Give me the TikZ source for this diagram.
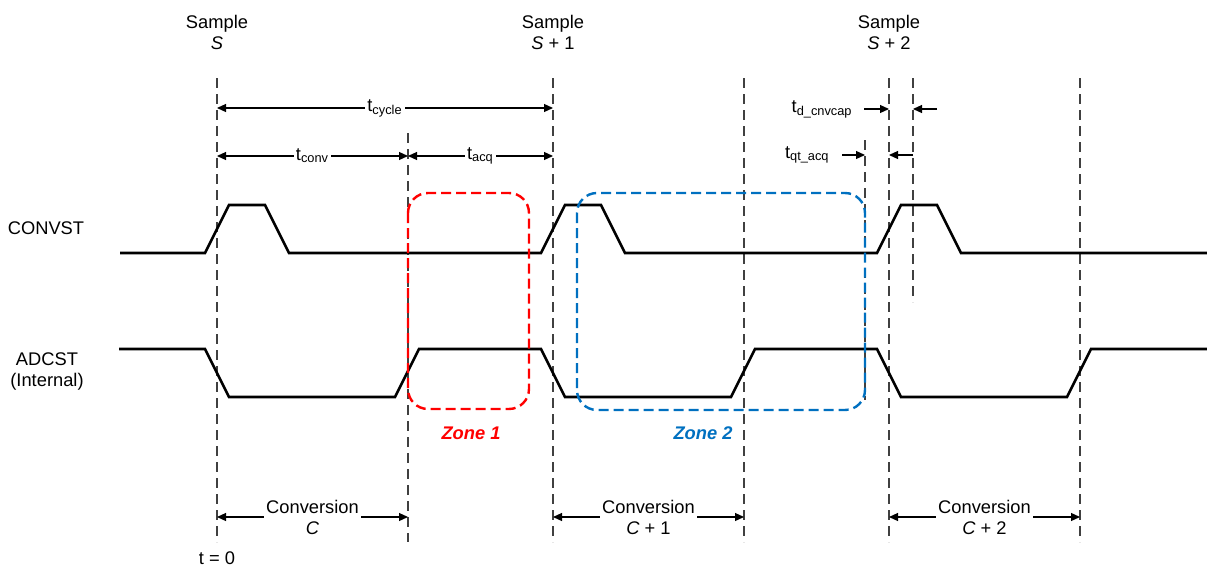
\documentclass[tikz,border=0pt]{standalone}
\usepackage{fontspec}
\setmainfont{Liberation Sans}
\usetikzlibrary{arrows.meta, positioning}
\definecolor{zonered}{RGB}{255,0,0}
\definecolor{zoneblue}{RGB}{0,112,192}
\definecolor{gridgray}{RGB}{64,64,64}
\tikzset{
  %% ---- lines ----
  signal/.style   = {line width=1.3pt, draw=black},
  gridline/.style = {line width=0.7pt, draw=gridgray, dash pattern=on 5pt off 3pt},
  zonebox/.style  = {line width=1.2pt, draw=#1, dash pattern=on 5pt off 2.5pt,
                     rounded corners=10pt},
  %% ---- arrows ----
  dimarr/.style   = {-{Triangle[length=4.5pt,width=4pt]}, line width=0.6pt},
  dimboth/.style  = {{Triangle[length=4.5pt,width=4pt]}-{Triangle[length=4.5pt,width=4pt]},
                     line width=0.6pt},
  %% ---- labels ----
  lbl/.style      = {font=\fontsize{9.15}{10.5}\selectfont, inner xsep=1pt,
                     inner ysep=1pt, align=center},
  gaplbl/.style   = {lbl, fill=white},
  zonelbl/.style  = {lbl, font=\fontsize{9.15}{10.5}\selectfont\bfseries\itshape, text=#1},
}

\begin{document}
\begin{tikzpicture}[x=0.5pt, y=-0.5pt]
\useasboundingbox (0,0) rectangle (1207,568);

%% time marks
\draw[gridline] (217,78)  -- (217,542);
\draw[gridline] (408,133) -- (408,542);
\draw[gridline] (553,78)  -- (553,542);
\draw[gridline] (744,78)  -- (744,542);
\draw[gridline] (865,140) -- (865,400);
\draw[gridline] (889,78)  -- (889,542);
\draw[gridline] (913,78)  -- (913,302);
\draw[gridline] (1080,78) -- (1080,542);

%% sample labels
\node[lbl] (smp0) at (217,32) {Sample\\\textit{S}};
\node[lbl] (smp1) at (553,32) {Sample\\\textit{S} + 1};
\node[lbl] (smp2) at (889,32) {Sample\\\textit{S} + 2};

%% timing dimensions
\coordinate (cyc-l) at (217,108); \coordinate (cyc-r) at (553,108);
\coordinate (cnv-l) at (217,156); \coordinate (cnv-m) at (408,156);
\coordinate (cnv-r) at (553,156);
\draw[dimboth] (cyc-l) -- node[gaplbl] (tcyc) {t\textsubscript{cycle}} (cyc-r);
\draw[dimboth] (cnv-l) -- node[gaplbl] (tcnv) {t\textsubscript{conv}} (cnv-m);
\draw[dimboth] (cnv-m) -- node[gaplbl] (tacq) {t\textsubscript{acq}} (cnv-r);

\coordinate (dc-a) at (864,109); \coordinate (dc-b) at (889,109);
\coordinate (dc-c) at (937,109); \coordinate (dc-d) at (913,109);
\node[lbl, left=4.5pt of dc-a] (tdc) {t\textsubscript{d\_cnvcap}};
\draw[dimarr] (dc-a) -- (dc-b);
\draw[dimarr] (dc-c) -- (dc-d);

\coordinate (qt-a) at (842,155); \coordinate (qt-b) at (865,155);
\coordinate (qt-c) at (913,155); \coordinate (qt-d) at (889,155);
\node[lbl, left=5pt of qt-a] (tqt) {t\textsubscript{qt\_acq}};
\draw[dimarr] (qt-a) -- (qt-b);
\draw[dimarr] (qt-c) -- (qt-d);

%% signals
\node[lbl] (convst) at (46,228) {CONVST};
\node[lbl] (adcst)  at (47,372) {ADCST\\(Internal)};
\draw[signal] (120,253) -- (205,253) -- (229,205) -- (265,205) -- (289,253)
  -- (541,253) -- (565,205) -- (601,205) -- (625,253) -- (877,253)
  -- (901,205) -- (937,205) -- (961,253) -- (1207,253);
\draw[signal] (119,349) -- (205,349) -- (229,397) -- (395,397) -- (419,349)
  -- (541,349) -- (565,397) -- (731,397) -- (755,349) -- (877,349)
  -- (901,397) -- (1067,397) -- (1091,349) -- (1207,349);

%% zones
\draw[zonebox=zonered]  (408,193) rectangle (529,409);
\draw[zonebox=zoneblue] (577,193) rectangle (865,410);
\node[zonelbl=zonered]  (zone1) at (471,433) {Zone 1};
\node[zonelbl=zoneblue] (zone2) at (703,433) {Zone 2};

%% conversions
\coordinate (cv0-l) at (217,517); \coordinate (cv0-r) at (408,517);
\coordinate (cv1-l) at (553,517); \coordinate (cv1-r) at (744,517);
\coordinate (cv2-l) at (889,517); \coordinate (cv2-r) at (1080,517);
\draw[dimboth] (cv0-l) -- node[gaplbl] (conv0) {Conversion\\\textit{C}} (cv0-r);
\draw[dimboth] (cv1-l) -- node[gaplbl] (conv1) {Conversion\\\textit{C} + 1} (cv1-r);
\draw[dimboth] (cv2-l) -- node[gaplbl] (conv2) {Conversion\\\textit{C} + 2} (cv2-r);
\node[lbl] (tzero) at (217,558) {t = 0};
\end{tikzpicture}
\end{document}
